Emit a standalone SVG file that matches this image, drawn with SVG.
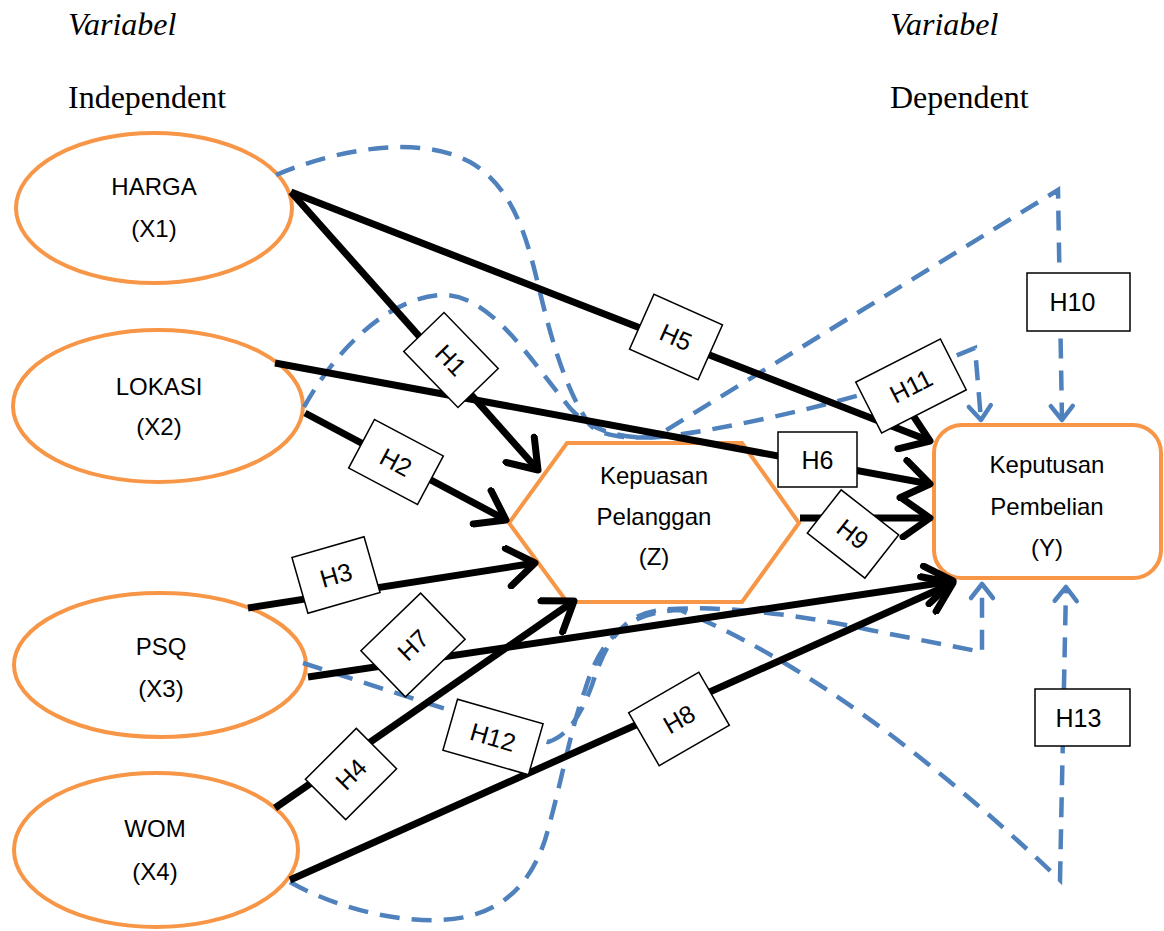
<svg xmlns="http://www.w3.org/2000/svg" width="1164" height="931" viewBox="0 0 1164 931">
<style>
.node{fill:#ffffff;stroke:#F79646;stroke-width:4}
.lbl{font-family:"Liberation Sans",Arial,sans-serif;font-size:24px;fill:#000;text-anchor:middle}
.title{font-family:"Liberation Serif","Times New Roman",serif;font-size:32px;fill:#000}
.solid{fill:none;stroke:#000;stroke-width:7;marker-end:url(#ah)}
.dash{fill:none;stroke:#4F81BD;stroke-width:4.5;stroke-dasharray:20 12}
.dasharr{marker-end:url(#bh)}
.hbox rect{fill:#fff;stroke:#000;stroke-width:1.5}
.hbox text{font-family:"Liberation Sans",Arial,sans-serif;font-size:25px;fill:#000;text-anchor:middle}
</style>
<defs>
<marker id="ah" markerUnits="userSpaceOnUse" viewBox="0 0 44 44" markerWidth="44" markerHeight="44" refX="36" refY="22" orient="auto">
<path d="M9,3 L36,22 L9,41" fill="none" stroke="#000" stroke-width="7" stroke-linecap="round" stroke-linejoin="round"/>
</marker>
<marker id="bh" markerUnits="userSpaceOnUse" viewBox="0 0 30 30" markerWidth="30" markerHeight="30" refX="24" refY="15" orient="auto">
<path d="M10,4 L24,15 L10,26" fill="none" stroke="#4F81BD" stroke-width="4.5" stroke-linecap="round" stroke-linejoin="round"/>
</marker>
</defs>
<rect width="1164" height="931" fill="#fff"/>

<g id="titles">
<text class="title" x="68" y="35" font-style="italic">Variabel</text>
<text class="title" x="68" y="108">Independent</text>
<text class="title" x="890" y="35" font-style="italic">Variabel</text>
<text class="title" x="890" y="108">Dependent</text>
</g>

<g id="node-harga">
<ellipse class="node" cx="154" cy="208" rx="138" ry="75"/>
<text class="lbl" x="154" y="195">HARGA</text>
<text class="lbl" x="154" y="237">(X1)</text>
</g>
<g id="node-lokasi">
<ellipse class="node" cx="158" cy="406" rx="145" ry="76"/>
<text class="lbl" x="159" y="395">LOKASI</text>
<text class="lbl" x="159" y="435">(X2)</text>
</g>
<g id="node-psq">
<ellipse class="node" cx="160" cy="665" rx="146" ry="72"/>
<text class="lbl" x="161" y="655">PSQ</text>
<text class="lbl" x="161" y="697">(X3)</text>
</g>
<g id="node-wom">
<ellipse class="node" cx="156" cy="850" rx="142" ry="77"/>
<text class="lbl" x="155" y="837">WOM</text>
<text class="lbl" x="155" y="880">(X4)</text>
</g>
<g id="node-z">
<polygon class="node" points="567,443 742,443 799,523 742,602 567,602 509,523"/>
<text class="lbl" x="654" y="484">Kepuasan</text>
<text class="lbl" x="654" y="525">Pelanggan</text>
<text class="lbl" x="654" y="565">(Z)</text>
</g>
<g id="node-y">
<rect class="node" x="934" y="425" width="227" height="153" rx="28" ry="28"/>
<text class="lbl" x="1047" y="473">Keputusan</text>
<text class="lbl" x="1047" y="515">Pembelian</text>
<text class="lbl" x="1047" y="556">(Y)</text>
</g>

<g id="connectors">
<path class="dash dasharr" d="M276,175 C340,148 420,135 470,162 C510,185 525,230 537,280 C550,335 565,390 590,425 Q605,440 655,437 L1058,190 L1062,420"/>
<path class="dash dasharr" d="M304,407 C330,360 380,300 440,295 C490,292 530,360 570,408 C590,430 620,440 660,437 C720,430 800,412 860,395 L975,348 L981,420"/>
<path class="dash dasharr" d="M303,663 L548,742 C570,735 582,712 592,685 C605,645 620,615 660,610 C720,604 800,615 870,630 L982,652 L982,584"/>
<path class="dash dasharr" d="M290,882 C330,905 390,922 440,920 C500,918 530,885 545,840 C560,790 570,730 585,690 C600,640 625,612 680,610 Q850,680 1060,880 L1066,587"/>

<line class="solid" x1="291" y1="192" x2="538" y2="470"/>
<line class="solid" x1="291" y1="192" x2="930" y2="441"/>
<line class="solid" x1="275" y1="363" x2="930" y2="484"/>
<line class="solid" x1="305" y1="413" x2="506" y2="520"/>
<line class="solid" x1="800" y1="518" x2="930" y2="518"/>
<line class="solid" x1="248" y1="608" x2="535" y2="563"/>
<line class="solid" x1="308" y1="677" x2="953" y2="581"/>
<line class="solid" x1="275" y1="808" x2="574" y2="601"/>
<line class="solid" x1="290" y1="880" x2="953" y2="583"/>

<g class="hbox" transform="translate(451,360) rotate(46)"><rect x="-39" y="-28" width="78" height="56"/><text x="0" y="9">H1</text></g>
<g class="hbox" transform="translate(396,462) rotate(28)"><rect x="-39" y="-27.5" width="78" height="55"/><text x="0" y="9">H2</text></g>
<g class="hbox" transform="translate(336,575) rotate(-16)"><rect x="-37.5" y="-29" width="75" height="58"/><text x="0" y="9">H3</text></g>
<g class="hbox" transform="translate(351,774) rotate(-45)"><rect x="-36" y="-28.5" width="72" height="57"/><text x="0" y="9">H4</text></g>
<g class="hbox" transform="translate(676,337) rotate(24)"><rect x="-37.5" y="-30" width="75" height="60"/><text x="0" y="9">H5</text></g>
<g class="hbox" transform="translate(817.5,459.5)"><rect x="-39.5" y="-27.5" width="79" height="55"/><text x="0" y="9">H6</text></g>
<g class="hbox" transform="translate(413,645) rotate(-44)"><rect x="-41.5" y="-32" width="83" height="64"/><text x="0" y="9">H7</text></g>
<g class="hbox" transform="translate(679,719) rotate(-30)"><rect x="-40.5" y="-30.5" width="81" height="61"/><text x="0" y="9">H8</text></g>
<g class="hbox" transform="translate(853,534) rotate(38)"><rect x="-36.5" y="-27.5" width="73" height="55"/><text x="0" y="9">H9</text></g>
<g class="hbox" transform="translate(1078.5,302)"><rect x="-51.5" y="-29" width="103" height="58"/><text x="-6" y="9">H10</text></g>
<g class="hbox" transform="translate(911,386) rotate(-27)"><rect x="-47.5" y="-28.5" width="95" height="57"/><text x="0" y="9">H11</text></g>
<g class="hbox" transform="translate(493,737) rotate(16)"><rect x="-44.5" y="-26.5" width="89" height="53"/><text x="0" y="9">H12</text></g>
<g class="hbox" transform="translate(1082.5,717.5)"><rect x="-47.5" y="-28.5" width="95" height="57"/><text x="-4" y="9">H13</text></g>
</g>
</svg>
